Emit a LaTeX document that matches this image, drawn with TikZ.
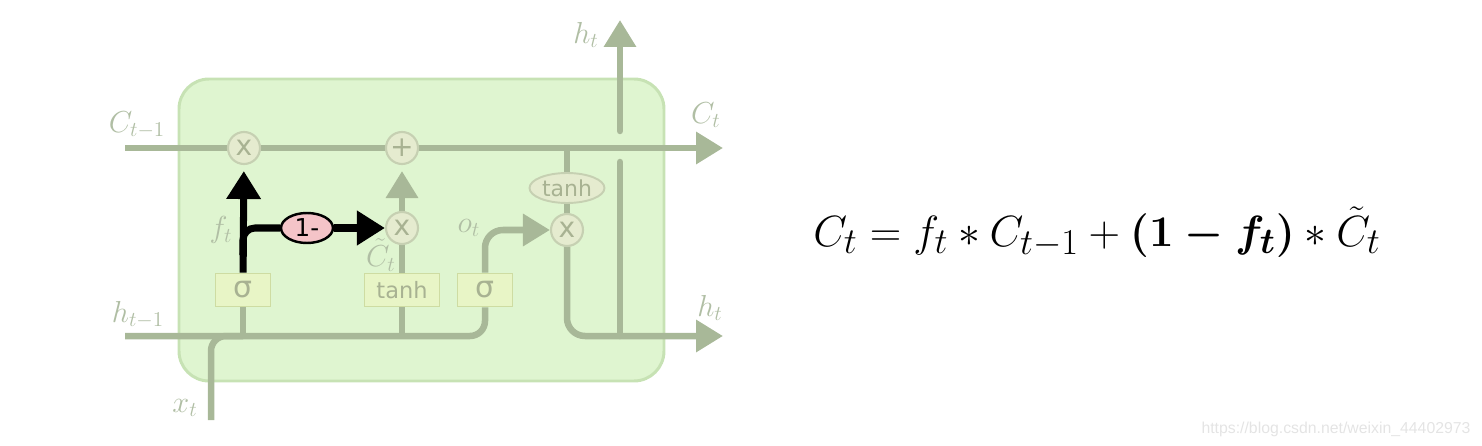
\documentclass[tikz,border=0pt]{standalone}
\usepackage{amsmath}
\usepackage{fontspec}
\newfontfamily\gatefont{DejaVu Sans}
\newfontfamily\markfont{Liberation Sans}
\usetikzlibrary{arrows.meta, shapes.geometric}
\definecolor{wire}{RGB}{168,184,152}
\definecolor{cellfill}{RGB}{223,245,208}
\definecolor{celledge}{RGB}{199,226,180}
\definecolor{opfill}{RGB}{229,235,207}
\definecolor{opedge}{RGB}{198,208,178}
\definecolor{boxfill}{RGB}{232,245,198}
\definecolor{boxedge}{RGB}{206,220,162}
\definecolor{optext}{RGB}{168,178,146}
\definecolor{labelgray}{RGB}{176,190,164}
\definecolor{onefill}{RGB}{244,196,200}
\definecolor{markgray}{RGB}{228,228,228}
\pgfdeclarelayer{back}
\pgfdeclarelayer{wires}
\pgfsetlayers{back,wires,main}

\begin{document}
\begin{tikzpicture}[x=0.02cm, y=-0.02cm,
  flow/.style={draw=wire, line width=3.7pt},
  hot/.style={draw=black, line width=4pt},
  tip/.style={-{Triangle[width=0.62cm,length=0.54cm]}},
  pointop/.style={circle, draw=opedge, fill=opfill, line width=1.2pt,
    minimum size=0.64cm, inner sep=0pt, text=optext,
    font=\gatefont\fontsize{16}{16}\selectfont},
  layer/.style={rectangle, draw=boxedge, fill=boxfill, line width=0.9pt,
    minimum width=1.1cm, minimum height=0.66cm, inner sep=0pt, text=optext},
  squash/.style={ellipse, draw=opedge, fill=opfill, line width=1.1pt,
    minimum width=1.5cm, minimum height=0.6cm, inner sep=0pt, text=optext,
    font=\gatefont\fontsize{12.5}{13}\selectfont},
  onebox/.style={ellipse, draw=black, fill=onefill, line width=1.4pt,
    minimum width=1.04cm, minimum height=0.6cm, inner sep=0pt,
    font=\gatefont\fontsize{14}{14}\selectfont},
  lbl/.style={inner sep=0pt, text=labelgray, font=\fontsize{16.5}{18}\selectfont}]
  \useasboundingbox (0,0) rectangle (1482,446);

  % cell body
  \begin{pgfonlayer}{back}
    \draw[fill=cellfill, draw=celledge, line width=1.7pt, rounded corners=0.6cm]
      (179,79) rectangle (664,381);
  \end{pgfonlayer}

  % pointwise operations and layers
  \node[pointop] (fmul) at (244,148) {x};
  \node[pointop] (add) at (402,148) {+};
  \node[pointop] (imul) at (402,228) {x};
  \node[pointop] (omul) at (567,230) {x};
  \node[layer, font=\gatefont\fontsize{17}{17}\selectfont] (fsig) at (243,290) {σ};
  \node[layer, minimum width=1.5cm, font=\gatefont\fontsize{12.8}{13}\selectfont] (ctanh) at (402,290) {tanh};
  \node[layer, font=\gatefont\fontsize{17}{17}\selectfont] (osig) at (485,290) {σ};
  \node[squash] (htanh) at (567,188) {tanh};
  \node[onebox] (onem) at (307,228) {1-};

  % free ends
  \coordinate (cin) at (125,148);
  \coordinate (cout) at (723,148);
  \coordinate (hin) at (125,336);
  \coordinate (hout) at (723,336);
  \coordinate (xin) at (211,420);
  \coordinate (htop) at (620,20);
  \coordinate (cjct) at (567,148);
  \coordinate (fbr) at (243,255);
  \coordinate (gaplo) at (620,162);
  \coordinate (gaphi) at (620,131);

  \begin{pgfonlayer}{wires}
    \draw[flow, tip] (cin) -- (cout);
    \draw[flow, rounded corners=0.3cm] (hin) -| (osig);
    \draw[flow, rounded corners=0.3cm] (xin) |- (fsig.south |- hin);
    \draw[flow] (fsig.south |- hin) -- (fsig);
    \draw[flow] (ctanh.south |- hin) -- (ctanh);
    \draw[flow] (ctanh) -- (imul);
    \draw[flow, tip, shorten >=0.12cm] (imul) -- (add);
    \draw[flow, tip, rounded corners=0.36cm] (osig) |- (omul);
    \draw[flow] (cjct) -- (htanh);
    \draw[flow] (htanh) -- (omul);
    \draw[flow, tip, rounded corners=0.36cm] (omul) |- (hout);
    \draw[flow, line cap=round] (htop |- hout) -- (gaplo);
    \draw[flow, line cap=round, tip] (gaphi) -- (htop);
    \draw[hot, -{Triangle[width=0.66cm,length=0.56cm]}, shorten >=0.12cm] (fsig) -- (fmul);
    \draw[hot, rounded corners=0.24cm] (fbr) |- (onem);
    \draw[hot, -{Triangle[width=0.66cm,length=0.56cm]}] (onem) -- (imul);
  \end{pgfonlayer}

  % labels
  \node[lbl] (lcprev) at (137,125) {$C_{t-1}$};
  \node[lbl] (lcnext) at (706,115) {$C_t$};
  \node[lbl] (lhprev) at (138,315) {$h_{t-1}$};
  \node[lbl] (lhnext) at (710,308) {$h_t$};
  \node[lbl] (lhtop) at (586,35) {$h_t$};
  \node[lbl] (lx) at (185,408) {$x_t$};
  \node[lbl] (lf) at (221,230) {$f_t$};
  \node[lbl] (lctil) at (381,255) {$\tilde{C}_t$};
  \node[lbl] (lo) at (469,228) {$o_t$};

  % update rule
  \node[inner sep=0pt, font=\fontsize{24.88}{30}\selectfont] (rule) at (1097,232)
    {$C_t = f_t * C_{t-1} + \boldsymbol{(1 - f_t)} * \tilde{C}_t$};

  \node[inner sep=0pt, text=markgray, font=\markfont\fontsize{9}{10}\selectfont] (mark)
    at (1336,429) {https://blog.csdn.net/weixin\_44402973};
\end{tikzpicture}
\end{document}
